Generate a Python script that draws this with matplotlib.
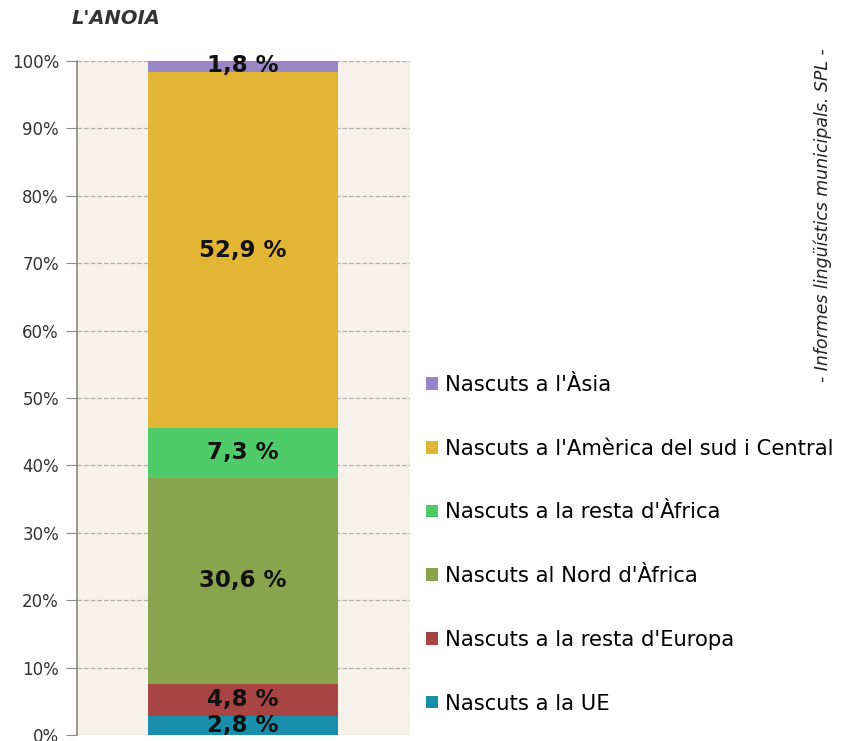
import numpy as np
import matplotlib
matplotlib.use("Agg")
import matplotlib.pyplot as plt

# categories from bottom to top of the stacked bar
categories = [
    "Nascuts a la UE",
    "Nascuts a la resta d'Europa",
    "Nascuts al Nord d'Àfrica",
    "Nascuts a la resta d'Àfrica",
    "Nascuts a l'Amèrica del sud i Central",
    "Nascuts a l'Àsia",
]
values = [2.8, 4.8, 30.6, 7.3, 52.9, 1.8]
colors = ["#1a8fab", "#a84442", "#88a44c", "#4fcb69", "#e3b535", "#9a86c4"]
y_ticks = [0, 10, 20, 30, 40, 50, 60, 70, 80, 90, 100]
tick_labels = ["%d%%" % t for t in y_ticks]

fig = plt.figure(figsize=(8.41, 7.41), dpi=100)
ax = fig.add_axes([77 / 841, 1 - 735 / 741, 333 / 841, 674 / 741])
ax.set_facecolor("#f6f1eb")

bars = []
bottom = 0
for cat, val, col in zip(categories, values, colors):
    b = ax.bar(0.4985, val, width=0.57, bottom=bottom, color=col, label=cat, zorder=3)
    bars.append(b)
    ax.text(0.4985, bottom + val / 2, ("%.1f %%" % val).replace(".", ","),
            ha="center", va="center", fontsize=16.5, fontweight="bold",
            color="#111111", zorder=4)
    bottom += val

ax.set_xlim(0, 1)
ax.set_ylim(0, 100)
ax.set_yticks(y_ticks)
ax.set_yticklabels(tick_labels, fontsize=12, color="#333333")
ax.set_xticks([])
ax.tick_params(axis="y", direction="out", length=8, color="#888888", pad=5)
ax.grid(axis="y", linestyle="--", color="#b0b0b0", linewidth=0.9, zorder=1)
for s in ["top", "right", "bottom"]:
    ax.spines[s].set_visible(False)
ax.spines["left"].set_color("#888888")
ax.spines["left"].set_linewidth(1.2)

fig.text(72 / 841, 1 - 18 / 741, "L'ANOIA", fontsize=14, style="italic",
         fontweight="bold", color="#333333", ha="left", va="center")

fig.text(823 / 841, 1 - 215 / 741, "- Informes lingüístics municipals. SPL -",
         rotation=90, fontsize=12.5, style="italic", color="#222222",
         ha="center", va="center")

handles = bars[::-1]
labels = categories[::-1]
fig.legend(handles, labels, loc="upper left",
           bbox_to_anchor=(426 / 841, 1 - 375 / 741), frameon=False,
           fontsize=15.2, handlelength=0.55, handleheight=0.55, handletextpad=0.35,
           labelspacing=2.07, borderpad=0, borderaxespad=0)

fig.savefig("out.png", dpi=100)
